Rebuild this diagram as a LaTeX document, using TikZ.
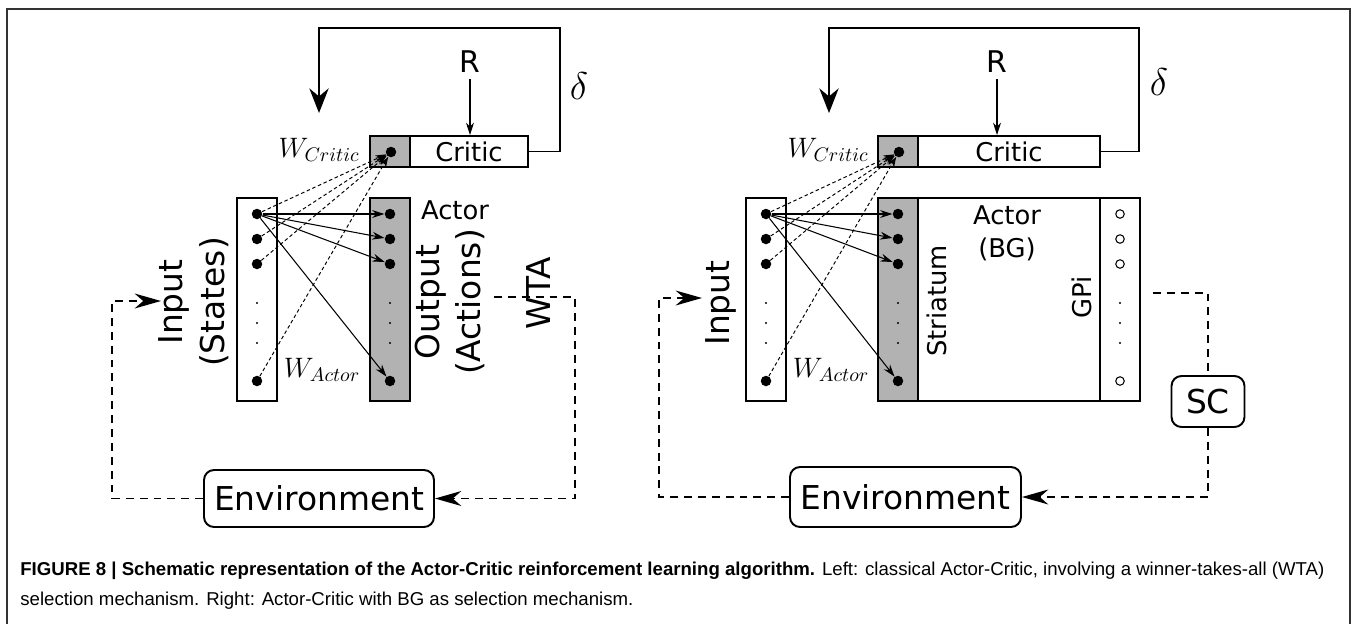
\documentclass[tikz,border=0pt]{standalone}
\usepackage{fix-cm}
\usepackage{fontspec}
\setmainfont{DejaVu Sans}
\newfontfamily\capfont{Liberation Sans}
\usetikzlibrary{arrows.meta}

\newcommand{\lblbig}{\fontsize{18.7}{23.8}\selectfont}
\newcommand{\lblmid}{\fontsize{14.7}{18.7}\selectfont}
\tikzstyle{unit}=[circle,fill=black,inner sep=0pt,minimum size=0.21cm]
\tikzstyle{gpiunit}=[circle,draw=black,line width=0.6pt,inner sep=0pt,minimum size=0.17cm]
\tikzstyle{tinydot}=[circle,fill=black,inner sep=0pt,minimum size=0.045cm]
\tikzstyle{layer}=[draw=black,line width=1.1pt,inner sep=0pt,minimum width=0.8cm,minimum height=4.06cm]
\tikzstyle{shaded}=[layer,fill=gray!60]
\tikzstyle{rbox}=[draw=black,line width=1.1pt,rounded corners=0.2cm,inner sep=0pt]
\tikzstyle{weight}=[-{Stealth[length=7pt,width=4.5pt]},line width=0.6pt]
\tikzstyle{cweight}=[-{Stealth[length=6pt,width=4pt]},line width=0.55pt,dash pattern=on 2pt off 1.5pt]
\tikzstyle{loopline}=[line width=0.9pt,dash pattern=on 4.5pt off 3.4pt]
\tikzstyle{bigtip}=[-{Stealth[length=15pt,width=8.5pt]}]
\tikzstyle{feedback}=[line width=1.1pt,-{Stealth[length=14pt,width=11pt]}]

\begin{document}
\begin{tikzpicture}[x=0.02cm,y=-0.02cm]
\useasboundingbox (0,0) rectangle (1356,623);
\draw[line width=0.9pt,black!80] (7,640) -- (7,9) -- (1350,9) -- (1350,640);

% left: classical Actor-Critic with WTA
\node[shaded,minimum height=0.62cm] (l-cw) at (390,151.5) {};
\node[layer,minimum width=2.36cm,minimum height=0.62cm,font=\lblmid] (l-critic) at (469,151.5) {Critic};
\node[layer] (l-input) at (257,299.5) {};
\node[shaded] (l-output) at (390,299.5) {};
\foreach \i/\y in {1/214,2/239,3/264,4/381}{
  \node[unit] (l-in\i) at (257,\y) {};
  \node[unit] (l-out\i) at (390,\y) {};
}
\foreach \j/\y in {1/303,2/323,3/343}{
  \node[tinydot] (l-ind\j) at (257,\y) {};
  \node[tinydot] (l-outd\j) at (390,\y) {};
}
\node[unit] (l-cdot) at (391,152) {};
\foreach \i in {1,...,4} \draw[weight] (l-in1) -- (l-out\i);
\foreach \i in {1,...,4} \draw[cweight] (l-in\i) -- (l-cdot);

\node[font=\fontsize{17}{20}\selectfont] (l-r) at (470,62) {R};
\draw[line width=0.6pt,-{Stealth[length=7pt,width=4.5pt]}] (l-r) -- (l-r |- l-critic.north);
\coordinate (l-fbtop) at (560,28);
\coordinate (l-fbend) at (319,113);
\draw[feedback] (l-critic.east) -| (l-fbtop) -| (l-fbend);
\node[font=\fontsize{22}{26}\selectfont] (l-delta) at (579,86) {$\delta$};
\node[font=\fontsize{16}{19}\selectfont] (l-wc) at (319,150) {$W_{Critic}$};
\node[font=\fontsize{16}{19}\selectfont] (l-wa) at (322,370) {$W_{Actor}$};

\node[font=\lblbig,rotate=90,align=center] (l-inlbl) at (194,302) {Input\\(States)};
\node[font=\lblbig,rotate=90,align=center] (l-outlbl) at (450,302) {Output\\(Actions)};
\node[font=\lblbig,rotate=90] (l-wta) at (539,293) {WTA};
\node[font=\lblmid] (l-actor) at (455,210) {Actor};

\node[rbox,minimum width=4.6cm,minimum height=1.14cm,font=\lblbig] (l-env) at (319,498.5) {Environment};
\coordinate (l-wtaout) at (494,297);
\coordinate (l-wtacorner) at (575,297);
\draw[loopline,bigtip] (l-wtaout) -- (l-wtacorner) |- (l-env.east);
\coordinate (l-incorner) at (112,301);
\coordinate (l-inarrow) at (161,301);
\draw[loopline,bigtip] (l-env.west) -| (l-incorner) -- (l-inarrow);

% right: Actor-Critic with BG
\node[shaded,minimum height=0.62cm] (r-cw) at (898,151.5) {};
\node[layer,minimum width=3.64cm,minimum height=0.62cm,font=\lblmid] (r-critic) at (1009,151.5) {Critic};
\node[layer] (r-input) at (766,299.5) {};
\node[shaded] (r-striatum) at (898,299.5) {};
\node[layer,minimum width=3.64cm] (r-actor) at (1009,299.5) {};
\node[layer] (r-gpi) at (1120,299.5) {};
\foreach \i/\y in {1/214,2/239,3/264,4/381}{
  \node[unit] (r-in\i) at (766,\y) {};
  \node[unit] (r-str\i) at (898,\y) {};
  \node[gpiunit] (r-gp\i) at (1120,\y) {};
}
\foreach \j/\y in {1/303,2/323,3/343}{
  \node[tinydot] (r-ind\j) at (766,\y) {};
  \node[tinydot] (r-strd\j) at (898,\y) {};
  \node[tinydot] (r-gpd\j) at (1120,\y) {};
}
\node[unit] (r-cdot) at (899,152) {};
\foreach \i in {1,...,4} \draw[weight] (r-in1) -- (r-str\i);
\foreach \i in {1,...,4} \draw[cweight] (r-in\i) -- (r-cdot);

\node[font=\fontsize{17}{20}\selectfont] (r-r) at (997,62) {R};
\draw[line width=0.6pt,-{Stealth[length=7pt,width=4.5pt]}] (r-r) -- (r-r |- r-critic.north);
\coordinate (r-fbtop) at (1139,28);
\coordinate (r-fbend) at (829,113);
\draw[feedback] (r-critic.east) -| (r-fbtop) -| (r-fbend);
\node[font=\fontsize{22}{26}\selectfont] (r-delta) at (1159,82) {$\delta$};
\node[font=\fontsize{16}{19}\selectfont] (r-wc) at (828,150) {$W_{Critic}$};
\node[font=\fontsize{16}{19}\selectfont] (r-wa) at (831,370) {$W_{Actor}$};

\node[font=\lblbig,rotate=90] (r-inlbl) at (721,303) {Input};
\node[font=\lblmid,align=center] (r-actorlbl) at (1007,233) {Actor\\(BG)};
\node[font=\lblmid,rotate=90] (r-strlbl) at (937,301) {Striatum};
\node[font=\lblmid,rotate=90] (r-gpilbl) at (1082,297) {GPi};

\node[rbox,minimum width=1.46cm,minimum height=1.02cm,font=\lblbig] (r-sc) at (1208,401.5) {SC};
\node[rbox,minimum width=4.62cm,minimum height=1.2cm,font=\lblbig] (r-env) at (905.5,497) {Environment};
\coordinate (r-gpiout) at (1153,293);
\coordinate (r-sccorner) at (1208,293);
\draw[loopline] (r-gpiout) -- (r-sccorner) -- (r-sc.north);
\draw[loopline,bigtip] (r-sc.south) |- (r-env.east);
\coordinate (r-incorner) at (659,298);
\coordinate (r-inarrow) at (702,298);
\draw[loopline,bigtip] (r-env.west) -| (r-incorner) -- (r-inarrow);

\node[anchor=base west,align=left,inner sep=0pt,font=\capfont\fontsize{10.6}{13}\selectfont] (caption) at (20,605)
  {\textbf{FIGURE 8 | Schematic representation of the Actor-Critic reinforcement learning algorithm.} Left: classical Actor-Critic, involving a winner-takes-all (WTA)\\[4pt]selection mechanism. Right: Actor-Critic with BG as selection mechanism.};
\end{tikzpicture}
\end{document}
